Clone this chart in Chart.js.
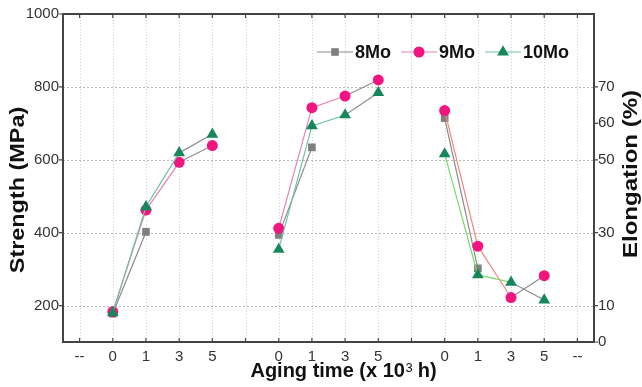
<!DOCTYPE html>
<html><head><meta charset="utf-8">
<script src="https://cdn.jsdelivr.net/npm/chart.js@4/dist/chart.umd.min.js"></script>
<style>html,body{margin:0;padding:0;background:#fff;} #wrap{width:642px;height:387px;position:relative;}</style>
</head><body><div id="wrap"><canvas id="c" width="642" height="387"></canvas></div>
<script>
// ---- data ----
const categories = ['--','0','1','3','5','','0','1','3','5','','0','1','3','5','--'];
const seriesNames = ['8Mo','9Mo','10Mo'];
// group 1 (strength, MPa) at aging 0,1,3,5
const g1_8Mo  = [178, 402, null, null];
const g1_9Mo  = [183, 462, 593, 639];
const g1_10Mo = [180, 471, 619, 670];
// group 2 (strength, MPa)
const g2_8Mo  = [394, 634, null, null];
const g2_9Mo  = [412, 743, 775, 819];
const g2_10Mo = [354, 693, 723, 784];
// group 3 (elongation, %)
const g3_8Mo  = [61.4, 20.2, null, null];
const g3_9Mo  = [63.5, 26.3, 12.2, 18.2];
const g3_10Mo = [51.6, 18.4, 16.4, 11.5];
const strengthTicks = [200, 400, 600, 800, 1000];
const elongTicks = [0, 10, 30, 50, 60, 70];
const leftTitle = 'Strength (MPa)';
const rightTitle = 'Elongation (%)';
const xTitleParts = ['Aging time (x 10', '3', ' h)'];

const blank4 = [null, null, null, null];
function strengthRow(a, b){ return [null, ...a, null, ...b, null, ...blank4, null]; }
function elongRow(c){ return [null, ...blank4, null, ...blank4, null, ...c, null]; }

const FONT = "'Liberation Sans', Arial, sans-serif";
const style = {
  '8Mo':  {marker:'#7f7f7f', shape:'rect', r:5.4, lineA:'#8a8a8a', lineB:'#8a8a8a', order:3},
  '9Mo':  {marker:'#f2157f', shape:'circle', r:5.5, lineA:'#ea80b8', lineB:'#f0887a', order:2},
  '10Mo': {marker:'#16875a', shape:'triangle', r:6.8, lineA:'#6cc4a0', lineB:'#74dc66', order:1},
};
const segGray = '#8f8f8f';

function makeDs(name, data, axis, lineColor){
  const s = style[name];
  return {
    label: name, data, yAxisID: axis, order: s.order,
    borderColor: lineColor, borderWidth: 1.2, backgroundColor: s.marker,
    pointStyle: s.shape, pointRadius: s.r, pointHoverRadius: s.r,
    pointBackgroundColor: s.marker, pointBorderColor: s.marker, pointBorderWidth: 0,
    spanGaps: false, tension: 0,
    segment: { borderColor: ctx => categories[ctx.p0DataIndex] === '3' ? segGray : lineColor }
  };
}

const datasets = [
  makeDs('8Mo',  strengthRow(g1_8Mo,  g2_8Mo),  'y', style['8Mo'].lineA),
  makeDs('9Mo',  strengthRow(g1_9Mo,  g2_9Mo),  'y', style['9Mo'].lineA),
  makeDs('10Mo', strengthRow(g1_10Mo, g2_10Mo), 'y', style['10Mo'].lineA),
  makeDs('8Mo',  elongRow(g3_8Mo),  'y2', style['8Mo'].lineB),
  makeDs('9Mo',  elongRow(g3_9Mo),  'y2', style['9Mo'].lineB),
  makeDs('10Mo', elongRow(g3_10Mo), 'y2', style['10Mo'].lineB),
];

const gridPlugin = {
  id: 'dotgrid',
  beforeDatasetsDraw(chart){
    const {ctx, chartArea: a, scales: {x, y}} = chart;
    ctx.save();
    ctx.lineWidth = 1;
    ctx.strokeStyle = '#d0d0d0'; ctx.setLineDash([1, 2]);
    ctx.beginPath();
    x.ticks.forEach((t, i) => { const px = Math.round(x.getPixelForTick(i)) + 0.5; ctx.moveTo(px, a.top); ctx.lineTo(px, a.bottom); });
    ctx.stroke();
    ctx.strokeStyle = '#b8b8b8'; ctx.setLineDash([2, 2]);
    ctx.beginPath();
    y.ticks.forEach(t => { if (t.value >= y.max) return; const py = Math.round(y.getPixelForValue(t.value)) + 0.5; ctx.moveTo(a.left, py); ctx.lineTo(a.right, py); });
    ctx.stroke();
    ctx.restore();
  }
};

function verticalTitle(ctx, text, cx, cy, stretch){
  ctx.save();
  ctx.translate(cx, cy);
  ctx.rotate(-Math.PI / 2);
  ctx.scale(stretch, 1);
  ctx.font = 'bold 20px ' + FONT;
  ctx.fillStyle = '#111'; ctx.textAlign = 'center'; ctx.textBaseline = 'middle';
  ctx.fillText(text, 0, 0);
  ctx.restore();
}

const framePlugin = {
  id: 'frame',
  afterDraw(chart){
    const {ctx, chartArea: a, scales} = chart;
    const {x, y, y2} = scales;
    ctx.save();
    ctx.strokeStyle = '#444'; ctx.lineWidth = 2;
    ctx.strokeRect(a.left, a.top, a.right - a.left, a.bottom - a.top);
    ctx.lineWidth = 1.2; ctx.beginPath();
    x.ticks.forEach((t, i) => {
      const px = x.getPixelForTick(i);
      ctx.moveTo(px, a.bottom); ctx.lineTo(px, a.bottom - 4);
      ctx.moveTo(px, a.top); ctx.lineTo(px, a.top + 4);
    });
    y.ticks.forEach(t => { const py = y.getPixelForValue(t.value); ctx.moveTo(a.left, py); ctx.lineTo(a.left - 4, py); });
    y2.ticks.forEach(t => { const py = y2.getPixelForValue(t.value); ctx.moveTo(a.right, py); ctx.lineTo(a.right + 4, py); });
    ctx.stroke();

    // axis titles
    const midY = (a.top + a.bottom) / 2;
    verticalTitle(ctx, leftTitle, 18, midY + 12, 1.17);
    verticalTitle(ctx, rightTitle, a.right + 37, midY - 4, 1.2);

    // x title with superscript
    ctx.save();
    ctx.fillStyle = '#111'; ctx.textBaseline = 'alphabetic'; ctx.textAlign = 'left';
    const bigF = 'bold 20px ' + FONT, smallF = '13px ' + FONT;
    ctx.font = bigF; const w0 = ctx.measureText(xTitleParts[0]).width, w2 = ctx.measureText(xTitleParts[2]).width;
    ctx.font = smallF; const w1 = ctx.measureText(xTitleParts[1]).width;
    const total = w0 + w1 + w2;
    let tx = (a.left + a.right) / 2 + 15 - total / 2;
    const base = a.bottom + 35;
    ctx.font = bigF; ctx.fillText(xTitleParts[0], tx, base); tx += w0;
    ctx.font = smallF; ctx.fillText(xTitleParts[1], tx + 0.5, base - 5); tx += w1;
    ctx.font = bigF; ctx.fillText(xTitleParts[2], tx, base);
    ctx.restore();

    // legend
    const ly = a.top + 38;
    let lx = a.left + 254;
    ctx.font = 'bold 18px ' + FONT;
    ctx.textBaseline = 'middle';
    seriesNames.forEach(name => {
      const s = style[name];
      ctx.strokeStyle = s.lineA; ctx.lineWidth = 1.2;
      ctx.beginPath(); ctx.moveTo(lx, ly); ctx.lineTo(lx + 36, ly); ctx.stroke();
      ctx.fillStyle = s.marker;
      ctx.beginPath();
      if (s.shape === 'circle') { ctx.arc(lx + 18, ly, s.r, 0, Math.PI * 2); }
      else if (s.shape === 'rect') { const h = s.r * Math.SQRT1_2; ctx.rect(lx + 18 - h, ly - h, 2 * h, 2 * h); }
      else { for (let k = 0; k < 3; k++) { const ang = k * 2 * Math.PI / 3; const px = lx + 18 + Math.sin(ang) * s.r, py = ly - Math.cos(ang) * s.r; k ? ctx.lineTo(px, py) : ctx.moveTo(px, py); } ctx.closePath(); }
      ctx.fill();
      ctx.fillStyle = '#111';
      ctx.textAlign = 'left';
      ctx.fillText(name, lx + 38, ly + 1);
      lx += 38 + ctx.measureText(name).width + 10;
    });
    ctx.restore();
  }
};

new Chart(document.getElementById('c'), {
  type: 'line',
  data: { labels: categories, datasets },
  plugins: [gridPlugin, framePlugin],
  options: {
    responsive: false, animation: false, devicePixelRatio: 1,
    layout: { padding: { top: 14, left: 0, right: 0, bottom: 0 } },
    plugins: { legend: { display: false }, tooltip: { enabled: false } },
    scales: {
      x: {
        type: 'category', offset: true,
        grid: { display: false, drawTicks: false },
        border: { display: false },
        ticks: { autoSkip: false, maxRotation: 0, padding: 6, color: '#333', font: { family: FONT, size: 15 } },
        title: { display: false },
        afterFit(s){ s.height = 45; }
      },
      y: {
        position: 'left', min: 100, max: 1000,
        afterBuildTicks(s){ s.ticks = strengthTicks.map(v => ({value: v})); },
        grid: { display: false, drawTicks: false },
        border: { display: false },
        ticks: { padding: 4, color: '#333', font: { family: FONT, size: 15 }, callback: v => String(v) },
        title: { display: false },
        afterFit(s){ s.width = 63; }
      },
      y2: {
        position: 'right', min: 0, max: 90,
        afterBuildTicks(s){ s.ticks = elongTicks.map(v => ({value: v})); },
        grid: { display: false, drawTicks: false },
        border: { display: false },
        ticks: { padding: 4, color: '#333', font: { family: FONT, size: 15 }, callback: v => String(v) },
        title: { display: false },
        afterFit(s){ s.width = 48; }
      }
    }
  }
});
</script></body></html>
